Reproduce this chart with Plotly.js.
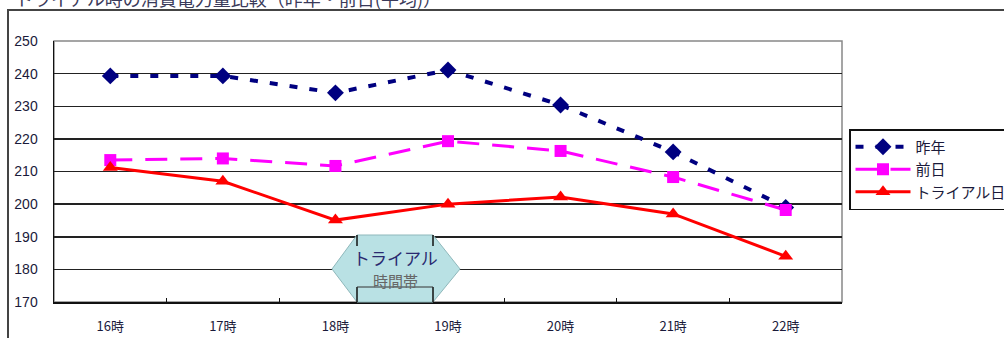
<!DOCTYPE html>
<html>
<head>
<meta charset="utf-8">
<script src="https://cdn.plot.ly/plotly-3.0.1.min.js"></script>
<style>
html,body{margin:0;padding:0;background:#fff;overflow:hidden;}
#frame{position:absolute;left:7px;top:9px;width:1010px;height:340px;border-left:2px solid #444;border-top:2px solid #444;box-sizing:border-box;}
#chart{position:absolute;left:0;top:0;width:1004px;height:338px;}
</style>
</head>
<body>
<div id="frame"></div>
<div id="chart"></div>
<script>
const categories = ["16時","17時","18時","19時","20時","21時","22時"];
const lastYear = [239.3, 239.3, 234.1, 241.1, 230.4, 216.0, 199.0];
const prevDay  = [213.5, 214.0, 211.7, 219.3, 216.3, 208.3, 198.2];
const trialDay = [211.2, 207.0, 195.1, 200.0, 202.2, 197.0, 184.0];
const seriesNames = ["昨年","前日","トライアル日"];
const yTicks = [170,180,190,200,210,220,230,240,250];
const titleText = "トライアル時の消費電力量比較（昨年・前日(平均)）";
const bandLabel = "トライアル<br><span style='font-size:15px;color:#666'>時間帯</span>";

const FONT = "'Noto Sans CJK JP', 'Noto Sans', sans-serif";

const traces = [
  {x: categories, y: lastYear, name: seriesNames[0], type: 'scatter', mode: 'lines+markers',
   line: {color: '#000080', width: 4, dash: '8px,12px'},
   marker: {symbol: 'diamond', size: 13, color: '#000080'}},
  {x: categories, y: prevDay, name: seriesNames[1], type: 'scatter', mode: 'lines+markers',
   line: {color: '#FF00FF', width: 3, dash: '22px,13px'},
   marker: {symbol: 'square', size: 12, color: '#FF00FF'}},
  {x: categories, y: trialDay, name: seriesNames[2], type: 'scatter', mode: 'lines+markers',
   line: {color: '#FF0000', width: 3},
   marker: {symbol: 'triangle-up', size: 13, color: '#FF0000'}}
];

const L = 54, R = 842, T = 41, B = 302;
const px = v => (v - L) / (R - L);
const py = v => (B - v) / (B - T);

const hex = `M ${px(332)},${py(269)} L ${px(357)},${py(235)} L ${px(433)},${py(235)} L ${px(460)},${py(269)} L ${px(433)},${py(302)} L ${px(357)},${py(302)} Z`;

const blk = {color: '#111', width: 1.5};
const shapes = [
  {type: 'rect', xref: 'paper', yref: 'paper', x0: 0, x1: 1, y0: 0, y1: 1,
   line: {color: '#888', width: 1.5}, layer: 'below'},
  {type: 'path', xref: 'paper', yref: 'paper', path: hex,
   fillcolor: '#b9e1e4', line: {color: '#8fb8bb', width: 1}, layer: 'above'},
  {type: 'line', xref: 'paper', yref: 'paper', x0: px(357), x1: px(357), y0: py(235), y1: py(246), line: blk},
  {type: 'line', xref: 'paper', yref: 'paper', x0: px(433), x1: px(433), y0: py(235), y1: py(246), line: blk},
  {type: 'line', xref: 'paper', yref: 'paper', x0: px(357), x1: px(357), y0: py(287), y1: py(302), line: blk},
  {type: 'line', xref: 'paper', yref: 'paper', x0: px(433), x1: px(433), y0: py(287), y1: py(302), line: blk},
  {type: 'line', xref: 'paper', yref: 'paper', x0: px(357), x1: px(433), y0: py(287), y1: py(287), line: {color: '#333', width: 1}}
];

const layout = {
  width: 1004, height: 338,
  margin: {l: L, r: 1004 - R, t: T, b: 338 - B, pad: 0, autoexpand: false},
  paper_bgcolor: 'rgba(0,0,0,0)', plot_bgcolor: '#fff',
  font: {family: FONT, color: '#1a1a3a'},
  title: {text: titleText, x: 15/1004, xanchor: 'left', xref: 'container',
          y: 1.0, yref: 'container', yanchor: 'middle', automargin: false,
          font: {family: FONT, size: 18, color: '#3a3a5a'}},
  showlegend: true,
  legend: {x: px(849), xanchor: 'left', y: py(129), yanchor: 'top',
           bgcolor: '#fff', bordercolor: '#111', borderwidth: 1.5,
           font: {family: FONT, size: 15, color: '#1a1a3a'},
           itemwidth: 55, tracegroupgap: 0},
  xaxis: {type: 'category', range: [-0.5, 6.5], showgrid: false,
          showline: true, linecolor: '#111', linewidth: 1.5,
          ticks: 'inside', tickson: 'boundaries', ticklen: 4, tickcolor: '#111',
          tickfont: {family: FONT, size: 13, color: '#1a1a3a'},
          ticklabelstandoff: 12, fixedrange: true, automargin: false},
  yaxis: {range: [170, 250], tickmode: 'array', tickvals: yTicks,
          showgrid: true, gridcolor: '#222', gridwidth: 1.5,
          showline: true, linecolor: '#111', linewidth: 1.5,
          zeroline: false, ticks: '',
          tickfont: {family: "'Liberation Sans', Arial, sans-serif", size: 14, color: '#1a1a3a'},
          ticklabelstandoff: 12, fixedrange: true, automargin: false},
  shapes: shapes,
  annotations: [
    {xref: 'paper', yref: 'paper', x: px(395), y: py(268), xanchor: 'center', yanchor: 'middle',
     text: bandLabel, showarrow: false, align: 'center',
     font: {family: FONT, size: 17, color: '#2a2a70'}}
  ]
};

Plotly.newPlot('chart', traces, layout, {displayModeBar: false, staticPlot: true});
</script>
</body>
</html>
